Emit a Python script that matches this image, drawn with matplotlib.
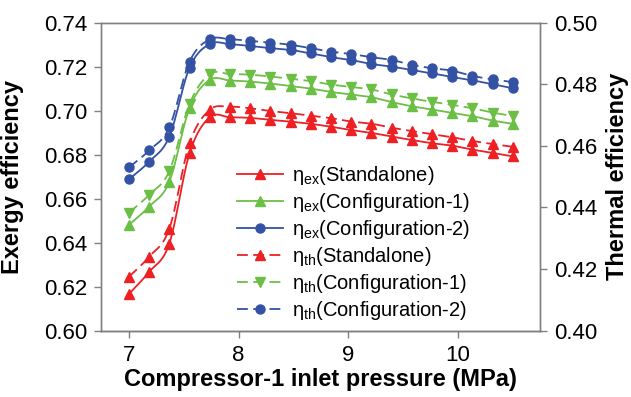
import numpy as np
import matplotlib
matplotlib.use("Agg")
import matplotlib.pyplot as plt
from matplotlib.lines import Line2D
from matplotlib.ticker import FormatStrFormatter

plt.rcParams['font.family'] = ['Liberation Sans', 'DejaVu Sans']
plt.rcParams['mathtext.fontset'] = 'custom'
plt.rcParams['mathtext.rm'] = 'Liberation Sans'
plt.rcParams['mathtext.it'] = 'Liberation Sans'
plt.rcParams['mathtext.bf'] = 'Liberation Sans:bold'

# Compressor-1 inlet pressure (MPa)
pressure = np.linspace(7.0, 10.5, 20)

# Exergy efficiency (left axis)
ex_standalone = [0.6167, 0.6267, 0.6396, 0.6806, 0.6970, 0.6970, 0.6967, 0.6958, 0.6950, 0.6940,
                 0.6927, 0.6912, 0.6899, 0.6882, 0.6867, 0.6852, 0.6841, 0.6823, 0.6808, 0.6792]
ex_config1 = [0.6481, 0.6564, 0.6677, 0.7012, 0.7140, 0.7137, 0.7132, 0.7123, 0.7112, 0.7100,
              0.7085, 0.7074, 0.7061, 0.7039, 0.7020, 0.7005, 0.6990, 0.6975, 0.6955, 0.6940]
ex_config2 = [0.6688, 0.6768, 0.6882, 0.7195, 0.7303, 0.7302, 0.7294, 0.7284, 0.7276, 0.7260,
              0.7243, 0.7230, 0.7212, 0.7200, 0.7185, 0.7170, 0.7153, 0.7138, 0.7120, 0.7102]

# Thermal efficiency (right axis)
th_standalone = [0.4175, 0.4240, 0.4331, 0.4608, 0.4717, 0.4727, 0.4722, 0.4713, 0.4706, 0.4698,
                 0.4690, 0.4679, 0.4672, 0.4659, 0.4648, 0.4638, 0.4628, 0.4616, 0.4606, 0.4597]
th_config1 = [0.4383, 0.4441, 0.4518, 0.4736, 0.4833, 0.4833, 0.4831, 0.4825, 0.4818, 0.4810,
              0.4799, 0.4791, 0.4783, 0.4767, 0.4754, 0.4743, 0.4733, 0.4722, 0.4708, 0.4697]
th_config2 = [0.4530, 0.4585, 0.4660, 0.4873, 0.4946, 0.4946, 0.4941, 0.4935, 0.4928, 0.4917,
              0.4906, 0.4898, 0.4888, 0.4879, 0.4863, 0.4852, 0.4844, 0.4827, 0.4816, 0.4807]

labels = [r'$\eta_{\mathrm{ex}}$(Standalone)', r'$\eta_{\mathrm{ex}}$(Configuration-1)',
          r'$\eta_{\mathrm{ex}}$(Configuration-2)', r'$\eta_{\mathrm{th}}$(Standalone)',
          r'$\eta_{\mathrm{th}}$(Configuration-1)', r'$\eta_{\mathrm{th}}$(Configuration-2)']

RED = '#ED2024'
GREEN = '#6CBF45'
BLUE = '#3452A4'
AXC = '#808080'


def smooth(x, y, n=12):
    """Cardinal (Catmull-Rom) Bezier smoothing through the points."""
    x = np.asarray(x, float)
    y = np.asarray(y, float)
    px = np.concatenate([[x[0]], x, [x[-1]]])
    py = np.concatenate([[y[0]], y, [y[-1]]])
    t = np.linspace(0, 1, n, endpoint=False)[:, None]
    xs, ys = [], []
    for i in range(1, len(px) - 2):
        p0 = np.array([px[i], py[i]])
        p3 = np.array([px[i + 1], py[i + 1]])
        c1 = p0 + (p3 - np.array([px[i - 1], py[i - 1]])) / 6.0
        c2 = p3 - (np.array([px[i + 2], py[i + 2]]) - p0) / 6.0
        b = ((1 - t) ** 3) * p0 + 3 * ((1 - t) ** 2) * t * c1 + 3 * (1 - t) * t ** 2 * c2 + t ** 3 * p3
        xs.append(b[:, 0])
        ys.append(b[:, 1])
    xs.append([x[-1]])
    ys.append([y[-1]])
    return np.concatenate(xs), np.concatenate(ys)


fig = plt.figure(figsize=(6.31, 3.97), dpi=100)
ax = fig.add_axes([0.160, 0.167, 0.696, 0.776])
ax2 = ax.twinx()

series = [
    (ax, ex_standalone, RED, '-', '^'),
    (ax, ex_config1, GREEN, '-', '^'),
    (ax, ex_config2, BLUE, '-', 'o'),
    (ax2, th_standalone, RED, (0, (6, 3)), '^'),
    (ax2, th_config1, GREEN, (0, (6, 3)), 'v'),
    (ax2, th_config2, BLUE, (0, (6, 3)), 'o'),
]

handles = []
for (a, vals, col, ls, mk), lab in zip(series, labels):
    sx, sy = smooth(pressure, vals)
    a.plot(sx, sy, color=col, linestyle=ls, linewidth=1.3)
    a.plot(pressure, vals, linestyle='none', marker=mk, markersize=6.5,
           color=col, markeredgecolor=col)
    handles.append(Line2D([], [], color=col, linestyle=ls, linewidth=1.3,
                          marker=mk, markersize=6.5, markeredgecolor=col, label=lab))

ax.set_xlim(6.745, 10.75)
ax.set_ylim(0.60, 0.74)
ax2.set_ylim(0.40, 0.50)
ax.set_xticks([7, 8, 9, 10])
ax.set_yticks(np.arange(0.60, 0.7401, 0.02))
ax2.set_yticks(np.arange(0.40, 0.5001, 0.02))
ax.yaxis.set_major_formatter(FormatStrFormatter('%.2f'))
ax2.yaxis.set_major_formatter(FormatStrFormatter('%.2f'))

for a in (ax, ax2):
    for s in a.spines.values():
        s.set_color(AXC)
        s.set_linewidth(1.0)
    a.tick_params(direction='out', length=5, width=1.0, color=AXC,
                  labelsize=16, labelcolor='black', pad=5)
ax.spines['bottom'].set_color('#404040')
ax.tick_params(axis='x', pad=5)

ax.set_xlabel('Compressor-1 inlet pressure (MPa)', fontsize=17, fontweight='bold', labelpad=2)
ax.set_ylabel('Exergy efficiency', fontsize=17, fontweight='bold', labelpad=14)
ax2.set_ylabel('Thermal efficiency', fontsize=17, fontweight='bold', labelpad=6)

ax2.legend(handles=handles, loc='upper left', bbox_to_anchor=(237 / 631, 1 - 164 / 397),
           bbox_transform=fig.transFigure, frameon=False, fontsize=14.5,
           handlelength=2.3, handletextpad=0.45, labelspacing=0.2,
           borderpad=0, borderaxespad=0)

fig.savefig('out.png', dpi=100)
